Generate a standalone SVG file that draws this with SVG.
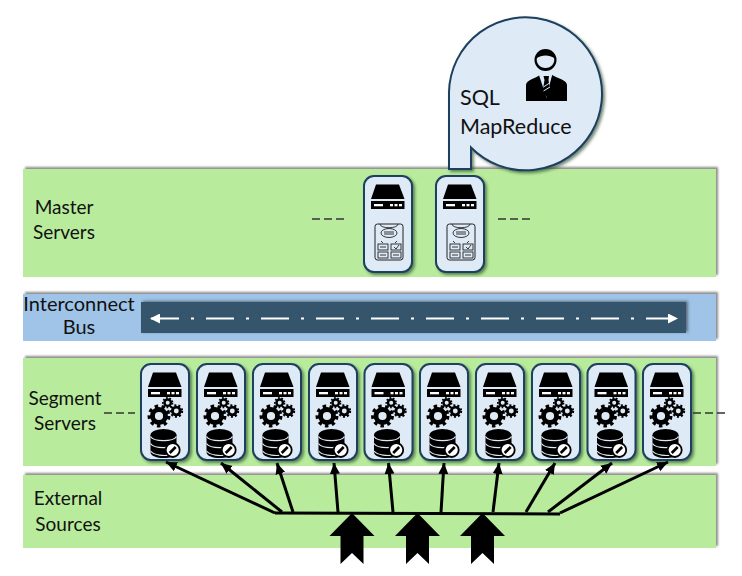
<svg xmlns="http://www.w3.org/2000/svg" width="742" height="576" viewBox="0 0 742 576">
<style>
text{font-family:"Lato","Open Sans","Liberation Sans",sans-serif;fill:#111;}
.lab{font-size:19px;text-anchor:middle;}
.band{fill:#b8ec9c;filter:url(#bandShadow);}
.card{fill:#deeaf6;stroke:#1d3f5e;stroke-width:2;filter:url(#cardShadow);}
.conn{fill:none;stroke:#000;stroke-width:3;marker-end:url(#tip);}
.dash{fill:none;stroke:#333;stroke-width:1.3;stroke-dasharray:8 4;}
.thin{fill:none;stroke:#222;stroke-width:.9;}
</style>
<defs>
<filter id="bandShadow" x="-3%" y="-12%" width="106%" height="124%"><feDropShadow dx="2" dy="-2" stdDeviation="1.2" flood-color="#666" flood-opacity=".75"/></filter>
<filter id="busShadow" x="-3%" y="-20%" width="106%" height="150%"><feDropShadow dx="2" dy="-1" stdDeviation="1.5" flood-color="#333" flood-opacity=".6"/></filter>
<filter id="cardShadow" x="-20%" y="-20%" width="150%" height="150%"><feDropShadow dx="2" dy="2" stdDeviation="1.8" flood-color="#1b3a1b" flood-opacity=".6"/></filter>
<marker id="tip" markerUnits="userSpaceOnUse" markerWidth="14" markerHeight="12" refX="11" refY="5" orient="auto"><path d="M0 0L11 5L0 10Z" fill="#000"/></marker>
<marker id="wtipS" markerUnits="userSpaceOnUse" markerWidth="12" markerHeight="12" refX="1" refY="5" orient="auto"><path d="M0 5L10 0V10Z" fill="#fff"/></marker>
<marker id="wtipE" markerUnits="userSpaceOnUse" markerWidth="12" markerHeight="12" refX="9" refY="5" orient="auto"><path d="M10 5L0 0V10Z" fill="#fff"/></marker>
<g id="server">
<path d="M12 8.500H35L40.500 23H7Z" fill="#000"/>
<rect x="7" y="25" width="33.500" height="8" fill="#000"/>
<rect x="10" y="28" width="9" height="2.300" fill="#fff"/>
<rect x="26" y="28" width="3" height="2.300" fill="#fff"/><rect x="30.500" y="28" width="3" height="2.300" fill="#fff"/><rect x="35" y="28" width="3" height="2.300" fill="#fff"/>
</g>
<g id="gear">
<circle r=".62" fill="none" stroke="#000" stroke-width=".46"/>
<circle r=".92" fill="none" stroke="#000" stroke-width=".34" pathLength="16" stroke-dasharray="1 1"/>
</g>
<g id="gears">
<use href="#gear" transform="translate(18 52) scale(10.500)"/>
<use href="#gear" transform="translate(26.700 38.700) scale(5.200)"/>
<use href="#gear" transform="translate(35.300 47) scale(6.300)"/>
</g>
<g id="db">
<ellipse cx="22.500" cy="71" rx="13" ry="6" fill="#000"/>
<path d="M9.500 71V88C9.500 96 35.500 96 35.500 88V71Z" fill="#000"/>
<path d="M9.500 72.500C13 78 32 78 35.500 72.500M9.500 79.500C13 85 32 85 35.500 79.500M9.500 87C13 91.500 24 92 28 91" fill="none" stroke="#deeaf6" stroke-width="1.200"/>
<circle cx="31.700" cy="86" r="7" fill="#fff" stroke="#000" stroke-width="1.800"/>
<path d="M28.700 89L34.700 83" stroke="#000" stroke-width="2.600"/>
</g>
<g id="clipboard">
<rect x="11" y="48" width="28" height="36" rx="2.500" fill="#deeaf6" stroke="#222" stroke-width="1"/>
<path d="M16 48C16 53 34 53 34 48" class="thin"/>
<ellipse cx="25" cy="57" rx="8" ry="4.500" class="thin"/>
<path d="M20 56H30M20 58H30" class="thin"/>
<path d="M17 65L19 67M33 65L31 67" class="thin"/>
<rect x="14" y="68" width="10" height="6" class="thin"/><rect x="27" y="68" width="10" height="6" class="thin"/>
<rect x="14" y="76" width="10" height="6" class="thin"/><rect x="27" y="76" width="10" height="6" class="thin"/>
<path d="M16 71H22M16 79H22M29 79H35" class="thin"/><path d="M30 71L32 73L35 69" class="thin"/>
</g>
<rect id="cardShape" width="48" height="96" rx="10" class="card"/>
<path id="bigArrow" d="M0 0L22.500 23H11.500V51L0 40L-11.500 51V23H-22.500Z" fill="#000"/>
</defs>

<rect width="742" height="576" fill="#fff"/>

<g id="band-master"><rect class="band" x="23" y="169" width="693" height="108"/>
<text class="lab" x="64" y="213.500">Master</text><text class="lab" x="64" y="238.500">Servers</text></g>
<g id="band-bus"><rect x="23" y="294" width="693" height="47" fill="#9fc4e8" filter="url(#bandShadow)"/>
<rect x="141" y="302" width="545" height="31" fill="#34556c" filter="url(#busShadow)"/>
<text class="lab" x="79" y="311" font-size="20" style="font-size:20px">Interconnect</text><text class="lab" x="79" y="334" style="font-size:20px">Bus</text>
<path d="M151 318.500H677" fill="none" stroke="#fff" stroke-width="2.200" stroke-dasharray="28 12 3 12" marker-start="url(#wtipS)" marker-end="url(#wtipE)"/></g>
<g id="band-segment"><rect class="band" x="23" y="358" width="693" height="108"/>
<text class="lab" x="65" y="404.500">Segment</text><text class="lab" x="65" y="429.500">Servers</text></g>
<g id="band-external"><rect class="band" x="23" y="475" width="693" height="73"/>
<text class="lab" x="68" y="504.500">External</text><text class="lab" x="68" y="530.500">Sources</text></g>

<g id="callout">
<path d="M449 169V92A76.500 76.500 0 1 1 471 147.500V169Z" fill="#deeaf6" stroke="#1d3f5e" stroke-width="2" filter="url(#cardShadow)"/>
<circle cx="545.500" cy="60" r="11" fill="#000"/>
<path d="M537 58C541 54.500 550 54.500 554 58C555.500 63 551 68 545.500 68C540 68 535.500 63 537 58Z" fill="#deeaf6"/>
<path d="M526 101V85C526 80 536 78 540 75L547 88L552 75C557 78 567 80 567 85V101Z" fill="#000"/>
<path d="M539 75H552L546.500 98Z" fill="#deeaf6"/>
<path d="M543.500 76H549L548.500 80L550.500 92L546.500 97L542.500 92L544.500 80Z" fill="#000"/>
<path d="M543.500 87L549.500 83M543.500 91L550 87" stroke="#deeaf6" stroke-width="1" fill="none"/>
<text x="460" y="105" font-size="21.500">SQL</text>
<text x="460" y="134" font-size="21.500">MapReduce</text>
</g>

<g id="master-1" transform="translate(364 176)"><use href="#cardShape"/><use href="#server"/><use href="#clipboard"/></g>
<g id="master-2" transform="translate(436 176)"><use href="#cardShape"/><use href="#server"/><use href="#clipboard"/></g>

<g id="segment-1" transform="translate(141 364)"><use href="#cardShape"/><use href="#server"/><use href="#gears"/><use href="#db"/></g>
<g id="segment-2" transform="translate(197 364)"><use href="#cardShape"/><use href="#server"/><use href="#gears"/><use href="#db"/></g>
<g id="segment-3" transform="translate(253 364)"><use href="#cardShape"/><use href="#server"/><use href="#gears"/><use href="#db"/></g>
<g id="segment-4" transform="translate(309 364)"><use href="#cardShape"/><use href="#server"/><use href="#gears"/><use href="#db"/></g>
<g id="segment-5" transform="translate(364.500 364)"><use href="#cardShape"/><use href="#server"/><use href="#gears"/><use href="#db"/></g>
<g id="segment-6" transform="translate(420 364)"><use href="#cardShape"/><use href="#server"/><use href="#gears"/><use href="#db"/></g>
<g id="segment-7" transform="translate(476 364)"><use href="#cardShape"/><use href="#server"/><use href="#gears"/><use href="#db"/></g>
<g id="segment-8" transform="translate(532 364)"><use href="#cardShape"/><use href="#server"/><use href="#gears"/><use href="#db"/></g>
<g id="segment-9" transform="translate(587.500 364)"><use href="#cardShape"/><use href="#server"/><use href="#gears"/><use href="#db"/></g>
<g id="segment-10" transform="translate(643 364)"><use href="#cardShape"/><use href="#server"/><use href="#gears"/><use href="#db"/></g>

<g id="connectors">
<path d="M275 513L560 514" fill="none" stroke="#000" stroke-width="3"/>
<path class="conn" d="M275 513L166 462"/>
<path class="conn" d="M282 512L221 463"/>
<path class="conn" d="M293 512L277 463"/>
<path class="conn" d="M338 512L334 463"/>
<path class="conn" d="M393 512L388.500 463"/>
<path class="conn" d="M441 512L444 463"/>
<path class="conn" d="M493 512L499 463"/>
<path class="conn" d="M526 512L555 463"/>
<path class="conn" d="M548 512L612 463"/>
<path class="conn" d="M560 513L668 462"/>
<path class="dash" d="M312 219H344"/>
<path class="dash" d="M498 219H530"/>
<path class="dash" d="M104 413H135"/>
<path class="dash" d="M693 413H725"/>
<use href="#bigArrow" x="352" y="513"/>
<use href="#bigArrow" x="417.500" y="513"/>
<use href="#bigArrow" x="482.500" y="513"/>
</g>
</svg>
